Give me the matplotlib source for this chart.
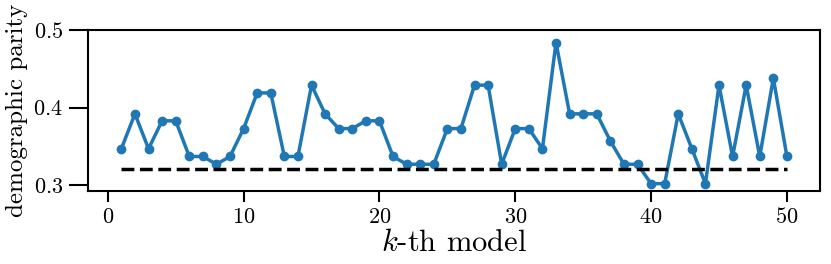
import numpy as np
import matplotlib
matplotlib.use("Agg")
import matplotlib.pyplot as plt

plt.rcParams["font.family"] = "serif"
plt.rcParams["font.serif"] = ["cmr10"]
plt.rcParams["mathtext.fontset"] = "cm"
plt.rcParams["axes.formatter.use_mathtext"] = True

k = np.arange(1, 51)
parity = [0.347, 0.392, 0.347, 0.383, 0.383, 0.337, 0.337, 0.327, 0.337, 0.373,
          0.419, 0.419, 0.337, 0.337, 0.429, 0.392, 0.373, 0.373, 0.383, 0.383,
          0.337, 0.327, 0.327, 0.327, 0.373, 0.373, 0.429, 0.429, 0.327, 0.373,
          0.373, 0.347, 0.484, 0.392, 0.392, 0.392, 0.357, 0.327, 0.327, 0.302,
          0.302, 0.392, 0.347, 0.302, 0.429, 0.337, 0.429, 0.337, 0.438, 0.337]
baseline = 0.321

fig = plt.figure(figsize=(8.31, 2.64), dpi=100)
ax = fig.add_axes([0.106, 0.278, 0.881, 0.608])

ax.plot(k, parity, "-o", c="#1f77b4", lw=2.5, ms=6)
ax.plot([k[0], k[-1]], [baseline, baseline], "--", c="k", lw=2.5)

ax.set_xlim(-1.45, 52.45)
ax.set_ylim(0.293, 0.5)
ax.set_xticks([0, 10, 20, 30, 40, 50])
ax.set_yticks([0.3, 0.4, 0.5])
ax.tick_params(labelsize=16, width=1.5)
ax.tick_params(axis="x", length=8, pad=4)
ax.tick_params(axis="y", length=14, pad=4)
for s in ax.spines.values():
    s.set_linewidth(1.5)

ax.set_xlabel(r"$k$-th model", fontsize=22, labelpad=2)
ax.set_ylabel("demographic parity", fontsize=18, labelpad=4)

fig.savefig("out.png", dpi=100)
